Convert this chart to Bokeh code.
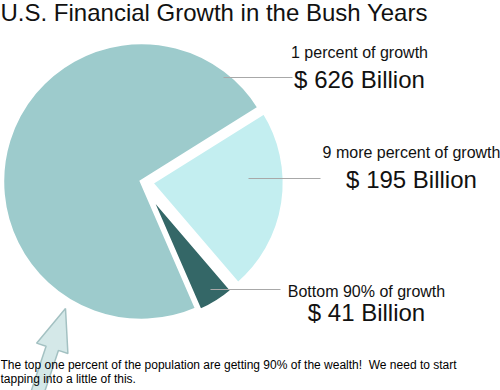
import numpy as np
from bokeh.plotting import figure
from bokeh.models import Range1d, ColumnDataSource
from bokeh.core.properties import value
from bokeh.embed import file_html
from bokeh.resources import INLINE

# ---------------- data ----------------
categories = ["1 percent of growth", "9 more percent of growth", "Bottom 90% of growth"]
values = [626, 195, 41]          # $ billions
amount_labels = [f"$ {v} Billion" for v in values]
title_text = "U.S. Financial Growth in the Bush Years"
footer_lines = ["The top one percent of the population are getting 90% of the wealth!\u00a0 We need to start",
                "tapping into a little of this."]

# ---------------- style / layout ----------------
colors = ["#9dcbcc", "#c3eef0", "#346767"]
explode = [0, 10, 15]            # px offset of each slice from centre
radii = [139, 133, 127]          # px
START_DEG = -66.5                # slices run clockwise from here
FONT = value("Liberation Sans")

W, H = 500, 390
IMG_W, IMG_H = 500, 390

def Y(y):  # image y (down) -> data y (up)
    return IMG_H - y

p = figure(width=W, height=H, x_range=Range1d(0, IMG_W), y_range=Range1d(0, IMG_H),
           output_backend="svg", toolbar_location=None, min_border=0,
           x_axis_location=None, y_axis_location=None)
p.grid.visible = False
p.outline_line_color = None
p.background_fill_color = "white"
p.border_fill_color = "white"

CX, CY = 141, Y(181)
total = float(sum(values))
xs, ys, sa, ea = [], [], [], []
cum = 0.0
for v, ex in zip(values, explode):
    a0 = START_DEG - cum / total * 360.0
    a1 = a0 - v / total * 360.0
    mid = np.radians((a0 + a1) / 2)
    xs.append(CX + ex * np.cos(mid))
    ys.append(CY + ex * np.sin(mid))
    sa.append(np.radians(a1))
    ea.append(np.radians(a0))
    cum += v

src = ColumnDataSource(dict(x=xs, y=ys, r=radii, sa=sa, ea=ea, c=colors))
p.wedge(x="x", y="y", radius="r", start_angle="sa", end_angle="ea", direction="anticlock",
        fill_color="c", line_color="white", line_width=3.5, line_join="miter", source=src)

# leader lines (annotation)
lead_x0 = [223, 248, 210]
lead_x1 = [292, 320, 280]
lead_y = [77, 178, 289]
for x0, x1, yy in zip(lead_x0, lead_x1, lead_y):
    p.line([x0, x1], [Y(yy), Y(yy)], line_color="#a8a8a8", line_width=1)

# labels
lab_cx = [359, 411, 366]
cat_base = [52, 152, 291]
amt_base = [79, 179, 312]
p.text(x=lab_cx, y=[Y(b) for b in cat_base], text=categories, text_font=FONT,
       text_font_size="16px", text_align="center", text_baseline="alphabetic", text_color="#111111")
p.text(x=lab_cx, y=[Y(b) for b in amt_base], text=amount_labels, text_font=FONT,
       text_font_size="24px", text_align="center", text_baseline="alphabetic", text_color="#111111")

# arrow (decoration) pointing at the big slice
tip = np.array([65.0, 308.0])
d = np.array([-0.316, 0.95]); d /= np.linalg.norm(d)
n = np.array([d[1], -d[0]])
head_len, head_w, shaft_w, length = 42, 16.5, 6.5, 95
base = tip + d * head_len
tail = tip + d * length
pts = [tip, base + n * head_w, base + n * shaft_w, tail + n * shaft_w,
       tail - n * shaft_w, base - n * shaft_w, base - n * head_w]
p.patch([q[0] for q in pts], [Y(q[1]) for q in pts], fill_color="#cfe5e6", fill_alpha=0.9,
        line_color="#a3c1c2", line_width=1.5)

# title
p.text(x=[0], y=[Y(12)], text=[title_text], text_font=FONT, text_font_size="24px",
       text_align="left", text_baseline="alphabetic", text_color="#111111")

# footer
p.text(x=[0, 0], y=[Y(364), Y(378.5)], text=footer_lines, text_font=FONT, text_font_size="12px",
       text_align="left", text_baseline="alphabetic", text_color="#000000")

open("out.html", "w").write(file_html(p, INLINE))
